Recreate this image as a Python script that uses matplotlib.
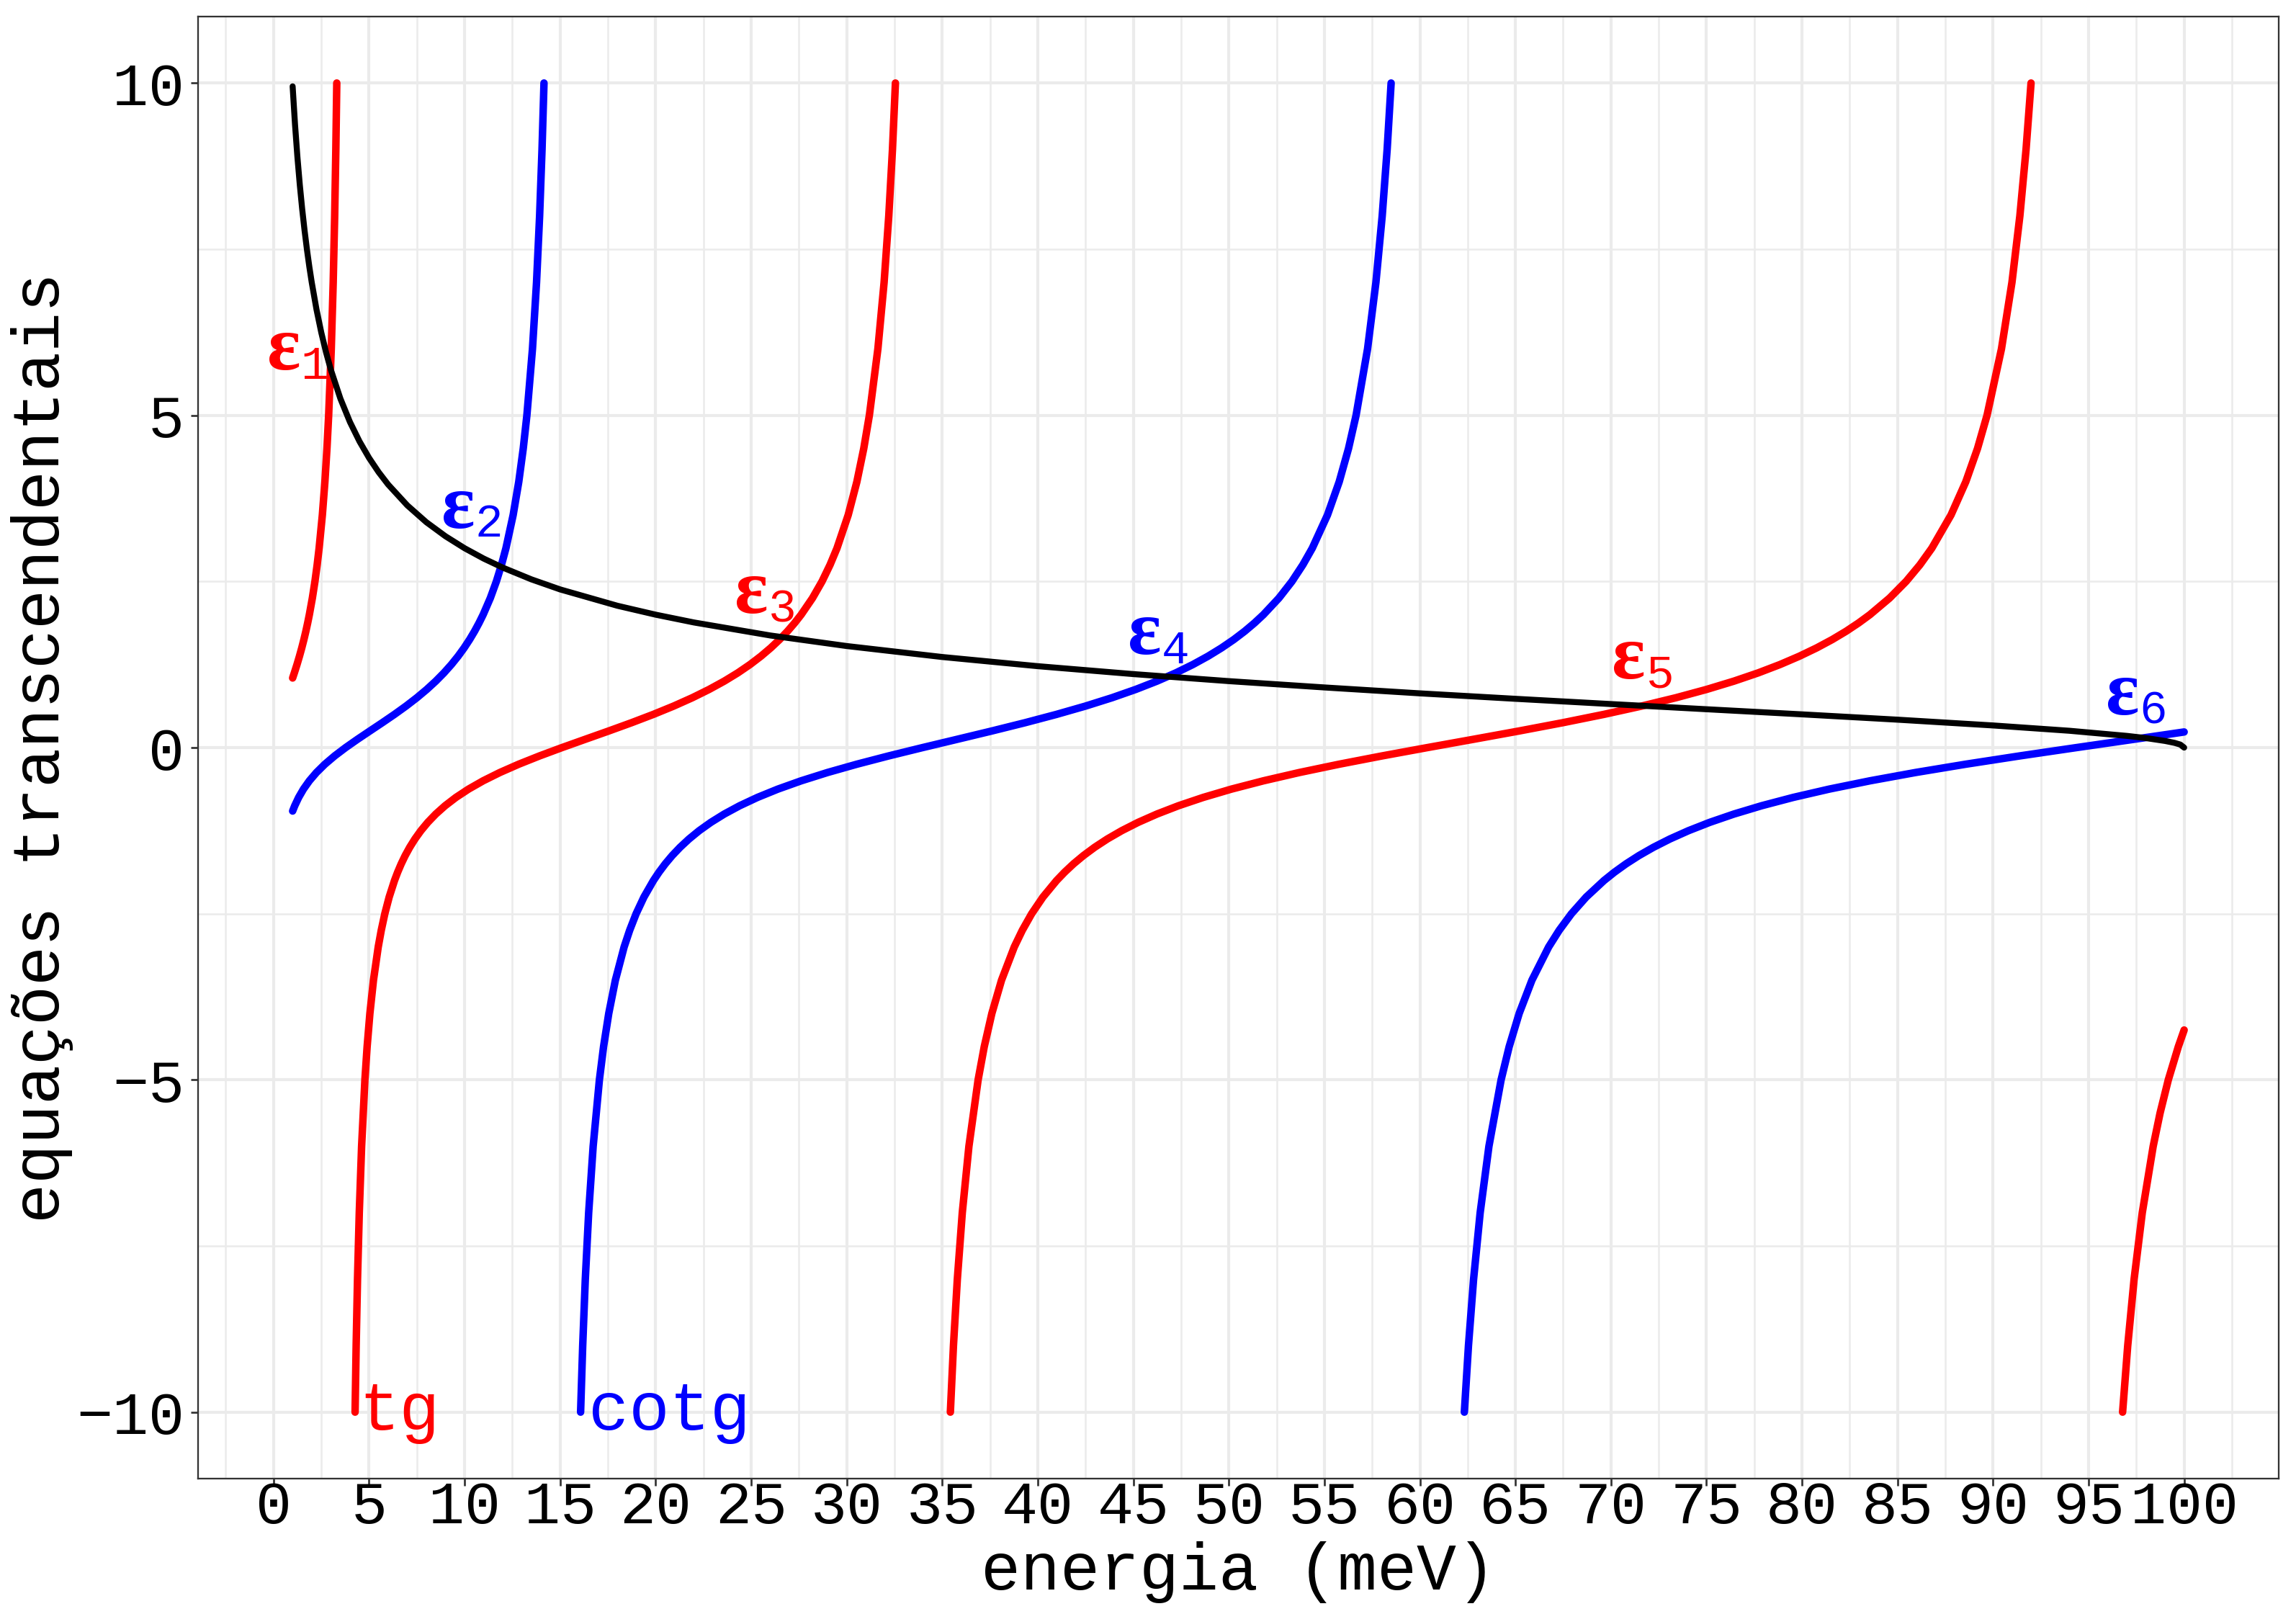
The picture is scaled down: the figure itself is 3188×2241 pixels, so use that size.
import matplotlib
matplotlib.use("Agg")
import matplotlib.pyplot as plt
from matplotlib.ticker import MultipleLocator

plt.rcParams["font.family"] = ["Liberation Mono", "DejaVu Sans Mono"]

# pontos: energia (meV) e valor da equacao
# curva preta
e_raiz = [1, 1.125, 1.25, 1.375, 1.5, 1.625, 1.75, 1.875, 2, 2.25, 2.5, 2.75, 3, 3.5, 4,
          4.5, 5, 5.5, 6, 7, 8, 9, 10, 11, 12, 13.5, 15, 18, 20, 22, 26, 30, 35, 40, 45,
          50, 55, 60, 65, 70, 75, 80, 85, 90, 94, 97, 98, 99, 99.5, 99.8, 100]
y_raiz = [9.950, 9.375, 8.888, 8.469, 8.103, 7.781, 7.493, 7.234, 7.000, 6.591, 6.245,
          5.947, 5.686, 5.251, 4.899, 4.607, 4.359, 4.145, 3.958, 3.645, 3.391, 3.180,
          3.000, 2.844, 2.708, 2.531, 2.380, 2.134, 2.000, 1.883, 1.687, 1.528, 1.363,
          1.225, 1.106, 1.000, 0.905, 0.816, 0.734, 0.655, 0.577, 0.500, 0.420, 0.333,
          0.253, 0.176, 0.143, 0.100, 0.071, 0.045, 0.000]

# valores de y de um ramo completo (de -10 a 10)
y_ramo = [-10, -9, -8, -7, -6, -5, -4.5, -4, -3.5, -3, -2.75, -2.5, -2.25, -2, -1.875,
          -1.75, -1.625, -1.5, -1.375, -1.25, -1.125, -1, -0.875, -0.75, -0.625, -0.5,
          -0.375, -0.25, -0.125, 0, 0.125, 0.25, 0.375, 0.5, 0.625, 0.75, 0.875, 1,
          1.125, 1.25, 1.375, 1.5, 1.625, 1.75, 1.875, 2, 2.25, 2.5, 2.75, 3, 3.5, 4,
          4.5, 5, 6, 7, 8, 9, 10]

# tg (vermelho)
e_tg0 = [1.0, 1.0903, 1.2285, 1.3575, 1.4776, 1.5891, 1.6921, 1.7870, 1.8751, 2.0323,
         2.1675, 2.2841, 2.3865, 2.5557, 2.6890, 2.7968, 2.8856, 3.0225, 3.1235, 3.2005,
         3.2614, 3.3107]
y_tg0 = [1.047, 1.125, 1.25, 1.375, 1.5, 1.625, 1.75, 1.875, 2, 2.25, 2.5, 2.75, 3, 3.5,
         4, 4.5, 5, 6, 7, 8, 9, 10]
e_tg1 = [4.269, 4.325, 4.396, 4.488, 4.610, 4.783, 4.899, 5.044, 5.231, 5.480, 5.638,
         5.825, 6.052, 6.332, 6.497, 6.682, 6.891, 7.130, 7.402, 7.714, 8.075, 8.493,
         8.980, 9.547, 10.207, 10.971, 11.847, 12.836, 13.927, 15.099, 16.318, 17.546,
         18.745, 19.884, 20.946, 21.918, 22.798, 23.592, 24.304, 24.941, 25.511, 26.023,
         26.485, 26.900, 27.275, 27.616, 28.210, 28.708, 29.128, 29.491, 30.078, 30.532,
         30.892, 31.186, 31.632, 31.957, 32.202, 32.395, 32.550]
e_tg2 = [35.425, 35.587, 35.790, 36.049, 36.396, 36.878, 37.199, 37.597, 38.103, 38.770,
         39.189, 39.680, 40.270, 40.987, 41.405, 41.869, 42.391, 42.979, 43.643, 44.397,
         45.256, 46.240, 47.367, 48.658, 50.134, 51.811, 53.694, 55.777, 58.027, 60.395,
         62.810, 65.197, 67.490, 69.636, 71.611, 73.400, 75.004, 76.438, 77.715, 78.851,
         79.862, 80.767, 81.578, 82.306, 82.960, 83.554, 84.585, 85.446, 86.170, 86.793,
         87.798, 88.572, 89.185, 89.684, 90.439, 90.988, 91.402, 91.726, 91.987]
e_tg3 = [96.779, 97.047, 97.381, 97.808, 98.379, 98.740, 99.171, 99.696, 100.0]
y_tg3 = [-10, -9, -8, -7, -6, -5.5, -5, -4.5, -4.25]

# cotg (azul)
e_cotg0 = [1.0, 1.1105, 1.3155, 1.5674, 1.8754, 2.2472, 2.6890, 3.2005, 3.7747, 4.396,
           5.044, 5.696, 6.332, 6.937, 7.501, 8.020, 8.493, 8.922, 9.310, 9.660, 9.976,
           10.262, 10.521, 10.756, 10.971, 11.347, 11.663, 11.931, 12.164, 12.542, 12.836,
           13.070, 13.261, 13.553, 13.766, 13.927, 14.053, 14.156]
y_cotg0 = [-0.955, -0.875, -0.75, -0.625, -0.5, -0.375, -0.25, -0.125, 0, 0.125, 0.25,
           0.375, 0.5, 0.625, 0.75, 0.875, 1, 1.125, 1.25, 1.375, 1.5, 1.625, 1.75, 1.875,
           2, 2.25, 2.5, 2.75, 3, 3.5, 4, 4.5, 5, 6, 7, 8, 9, 10]
e_cotg1 = [16.072, 16.182, 16.318, 16.494, 16.729, 17.056, 17.274, 17.546, 17.892, 18.350,
           18.639, 18.978, 19.386, 19.885, 20.176, 20.501, 20.866, 21.280, 21.748, 22.280,
           22.891, 23.592, 24.399, 25.328, 26.396, 27.617, 28.996, 30.532, 32.202, 33.972,
           35.790, 37.597, 39.343, 40.985, 42.504, 43.884, 45.127, 46.240, 47.234, 48.121,
           48.912, 49.620, 50.257, 50.828, 51.343, 51.810, 52.623, 53.302, 53.874, 54.367,
           55.163, 55.777, 56.264, 56.660, 57.261, 57.698, 58.027, 58.286, 58.494]
e_cotg2 = [62.327, 62.542, 62.810, 63.154, 63.613, 64.250, 64.673, 65.197, 65.864, 66.740,
           67.289, 67.931, 68.702, 69.638, 70.182, 70.787, 71.465, 72.228, 73.088, 74.062,
           75.171, 76.438, 77.885, 79.537, 81.421, 83.556, 85.942, 88.572, 91.402, 94.367,
           97.381, 100.0]
y_cotg2 = [-10, -9, -8, -7, -6, -5, -4.5, -4, -3.5, -3, -2.75, -2.5, -2.25, -2, -1.875,
           -1.75, -1.625, -1.5, -1.375, -1.25, -1.125, -1, -0.875, -0.75, -0.625, -0.5,
           -0.375, -0.25, -0.125, 0, 0.125, 0.235]

ramos_tg = [(e_tg0, y_tg0), (e_tg1, y_ramo), (e_tg2, y_ramo), (e_tg3, y_tg3)]
ramos_cotg = [(e_cotg0, y_cotg0), (e_cotg1, y_ramo), (e_cotg2, y_cotg2)]

# rotulos dos niveis
niveis = ["1", "2", "3", "4", "5", "6"]
nivel_x = [1.43, 10.55, 25.89, 46.46, 71.8, 97.66]
nivel_y = [5.69, 3.31, 2.03, 1.41, 1.04, 0.50]
nivel_cor = ["red", "blue", "red", "blue", "red", "blue"]

fig = plt.figure(figsize=(3188 / 300, 2241 / 300), dpi=300)
ax = fig.add_axes([275 / 3188, 1 - 2053 / 2241, (3164 - 275) / 3188, (2053 - 23) / 2241])

for e, y in ramos_tg:
    ax.plot(e, y, color="#FF0000", lw=2.5, solid_capstyle="round", solid_joinstyle="round", zorder=3)
for e, y in ramos_cotg:
    ax.plot(e, y, color="#0000FF", lw=2.5, solid_capstyle="round", solid_joinstyle="round", zorder=3)
ax.plot(e_raiz, y_raiz, color="black", lw=2.0, solid_capstyle="round",
        solid_joinstyle="round", zorder=4)

for n, x, y, c in zip(niveis, nivel_x, nivel_y, nivel_cor):
    ax.annotate("ε", (x, y), xytext=(0, 0), textcoords="offset points", ha="right",
                va="baseline", color=c, fontsize=26, family="Liberation Serif",
                fontweight="bold", zorder=5)
    ax.annotate(n, (x, y), xytext=(0, -3.1), textcoords="offset points", ha="left",
                va="baseline", color=c, fontsize=15.5, zorder=5)

ax.text(4.48, -10, "tg", color="#FF0000", fontsize=22.5, ha="left", va="center", zorder=5)
ax.text(16.47, -10, "cotg", color="#0000FF", fontsize=22.5, ha="left", va="center", zorder=5)

ax.set_xlim(-3.95, 104.95)
ax.set_ylim(-11, 11)
ax.xaxis.set_major_locator(MultipleLocator(5))
ax.xaxis.set_minor_locator(MultipleLocator(2.5))
ax.yaxis.set_major_locator(MultipleLocator(5))
ax.yaxis.set_minor_locator(MultipleLocator(2.5))
ax.grid(which="major", color="#EBEBEB", lw=1.0, zorder=0)
ax.grid(which="minor", color="#EBEBEB", lw=0.6, zorder=0)
ax.set_axisbelow(True)
ax.tick_params(which="major", direction="out", length=2.4, width=0.65, color="#333333",
               labelsize=20, labelcolor="black")
ax.tick_params(axis="x", which="major", pad=-2.2)
ax.tick_params(axis="y", which="major", pad=2.2)
ax.tick_params(which="minor", length=0)
for s in ax.spines.values():
    s.set_color("#333333")
    s.set_linewidth(0.55)

ax.set_xlabel("energia (meV)", fontsize=22, labelpad=2)
ax.set_ylabel("equações transcendentais", fontsize=22, labelpad=1)

fig.savefig("out.png", dpi=300)
